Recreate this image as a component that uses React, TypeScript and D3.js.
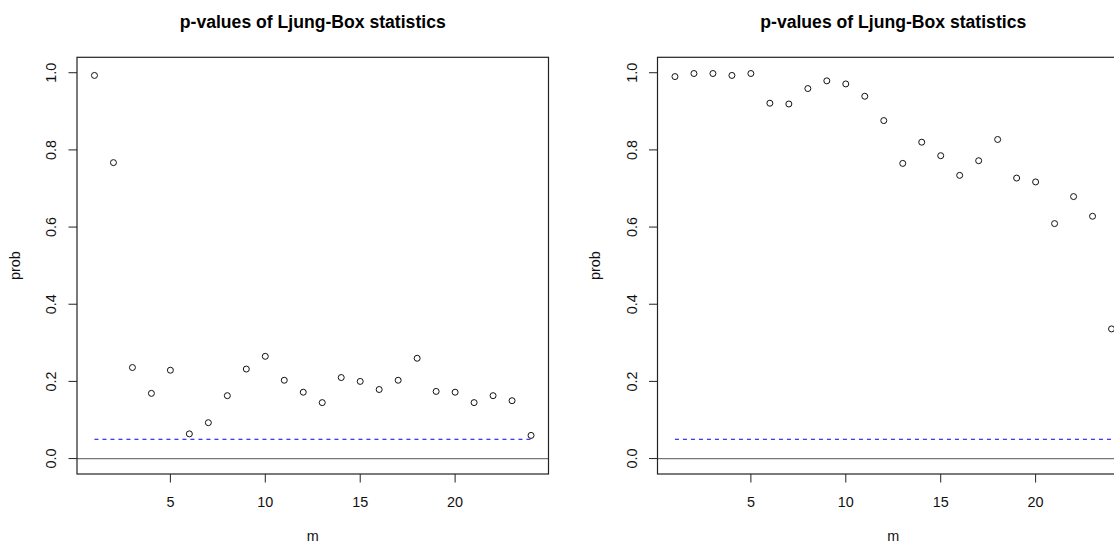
import React from "react";
import * as d3 from "d3";

const lags = d3.range(1, 25);
const pLeft = [0.993, 0.767, 0.236, 0.169, 0.229, 0.064, 0.093, 0.163, 0.232, 0.265, 0.203, 0.172,
  0.145, 0.210, 0.200, 0.179, 0.203, 0.260, 0.174, 0.172, 0.145, 0.163, 0.150, 0.060];
const pRight = [0.990, 0.998, 0.998, 0.993, 0.998, 0.921, 0.919, 0.959, 0.979, 0.971, 0.939, 0.876,
  0.765, 0.820, 0.785, 0.734, 0.772, 0.827, 0.727, 0.717, 0.609, 0.679, 0.628, 0.336];
const xTicks = [5, 10, 15, 20];
const yTicks = [0, 0.2, 0.4, 0.6, 0.8, 1.0];
const threshold = 0.05;
const title = "p-values of Ljung-Box statistics";

const W = 1114;
const H = 542;
const FONT = "'Liberation Sans', Arial, sans-serif";

function Panel({ offset, values }: { offset: number; values: number[] }) {
  const left = offset + 77;
  const right = offset + 548.5;
  const top = 57.3;
  const bottom = 474;
  const x = d3.scaleLinear().domain([0.08, 24.92]).range([left, right]);
  const y = d3.scaleLinear().domain([-0.04, 1.04]).range([bottom, top]);
  const cx = (left + right) / 2;
  const cy = (top + bottom) / 2;
  return (
    <g>
      <text x={cx} y={27.5} textAnchor="middle" fontFamily={FONT} fontWeight="bold" fontSize={17.6} fill="#000">
        {title}
      </text>
      {/* zero line */}
      <line x1={left} x2={right} y1={y(0)} y2={y(0)} stroke="#777" strokeWidth={1.3} />
      {/* threshold dashed */}
      <line x1={x(1)} x2={x(24)} y1={y(threshold)} y2={y(threshold)} stroke="#0000ff" strokeWidth={1} strokeDasharray="4,4" />
      {/* points */}
      {values.map((v, i) => (
        <circle key={i} cx={x(lags[i])} cy={y(v)} r={3} fill="none" stroke="#111" strokeWidth={1} />
      ))}
      {/* box */}
      <rect x={left} y={top} width={right - left} height={bottom - top} fill="none" stroke="#222" strokeWidth={1.2} />
      {/* y axis */}
      {yTicks.map((t) => (
        <g key={t}>
          <line x1={left - 8.5} x2={left} y1={y(t)} y2={y(t)} stroke="#222" strokeWidth={1} />
          <text
            transform={`translate(${offset + 56},${y(t)}) rotate(-90)`}
            textAnchor="middle"
            fontFamily={FONT}
            fontSize={14.4}
            fill="#111"
          >
            {t.toFixed(1)}
          </text>
        </g>
      ))}
      {/* x axis */}
      {xTicks.map((t) => (
        <g key={t}>
          <line x1={x(t)} x2={x(t)} y1={bottom} y2={bottom + 8.5} stroke="#222" strokeWidth={1} />
          <text x={x(t)} y={506.5} textAnchor="middle" fontFamily={FONT} fontSize={14.4} fill="#111">
            {t}
          </text>
        </g>
      ))}
      <text x={cx} y={540.5} textAnchor="middle" fontFamily={FONT} fontSize={14.4} fill="#111">
        m
      </text>
      <text
        transform={`translate(${offset + 19.5},${cy}) rotate(-90)`}
        textAnchor="middle"
        fontFamily={FONT}
        fontSize={14.4}
        fill="#111"
      >
        prob
      </text>
    </g>
  );
}

export default function App() {
  return (
    <svg
      width={W}
      height={H}
      viewBox={`0 0 ${W} ${H}`}
      style={{ position: "absolute", left: 0, top: 0, background: "#fff" }}
    >
      <rect x={0} y={0} width={W} height={H} fill="#fff" />
      <Panel offset={0} values={pLeft} />
      <Panel offset={580.5} values={pRight} />
    </svg>
  );
}
